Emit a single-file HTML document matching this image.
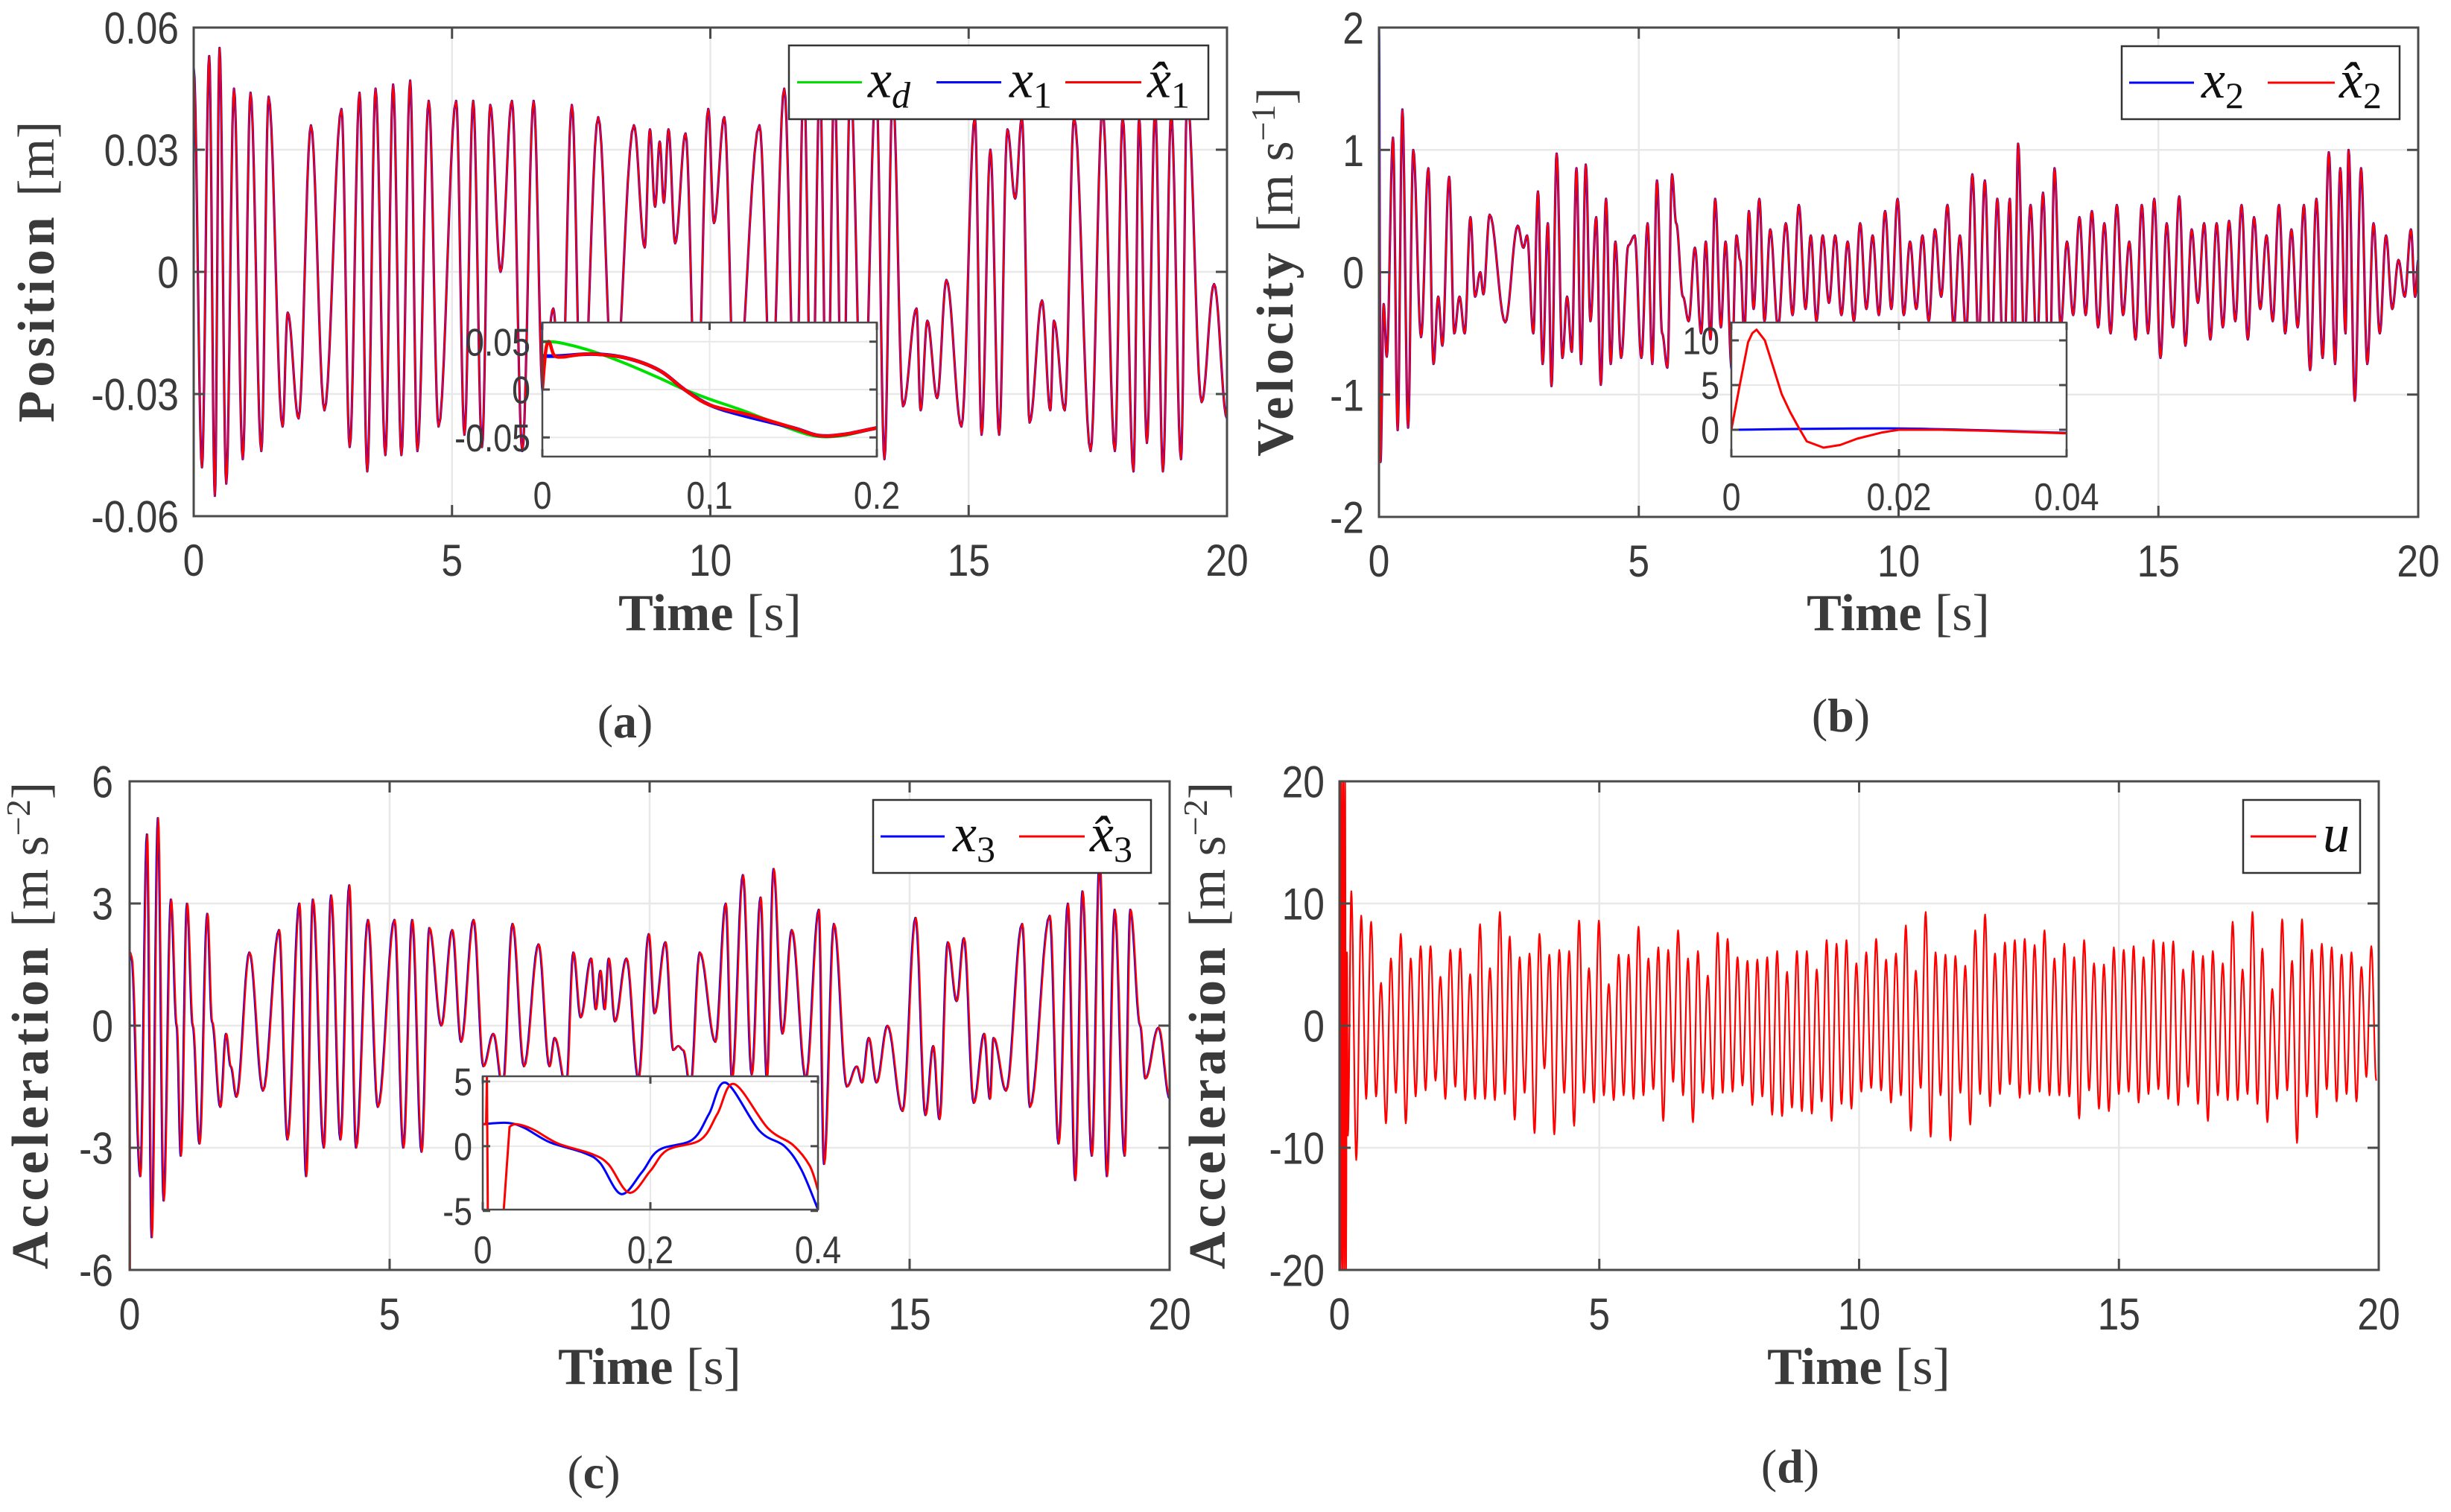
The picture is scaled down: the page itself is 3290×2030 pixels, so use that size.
<!DOCTYPE html>
<html><head><meta charset="utf-8"><title>State estimation results</title>
<style>
html,body{margin:0;padding:0;background:#fff;}
svg{display:block;}
.tk{font-family:"Liberation Sans",sans-serif;fill:#3a3a3a;}
.ttl{font-family:"Liberation Serif",serif;fill:#3a3a3a;}
.lg{font-family:"Liberation Serif",serif;font-style:italic;fill:#111;}
</style></head>
<body>
<svg id="fig" xmlns="http://www.w3.org/2000/svg" width="3290" height="2030" viewBox="0 0 3290 2030"></svg>
<script>
// ---------- Panel (a) data: position extrema ----------
const posTimes = [0,0.16,0.30,0.41,0.50,0.63,0.78,0.95,1.10,1.31,1.45,1.72,1.82,2.03,2.27,2.53,2.86,3.02,3.21,3.36,3.52,3.71,3.86,4.02,4.19,4.33,4.55,4.74,5.08,5.24,5.41,5.58,5.74,5.94,6.16,6.36,6.58,6.76,6.96,7.11,7.32,7.51,7.83,8.13,8.52,8.73,8.83,8.93,9.02,9.10,9.19,9.32,9.52,9.73,9.96,10.07,10.27,10.48,10.95,11.18,11.43,11.65,11.81,11.96,12.12,12.26,12.40,12.56,12.71,12.95,13.21,13.37,13.53,13.73,13.99,14.07,14.20,14.39,14.57,14.86,15.12,15.25,15.42,15.59,15.75,15.90,16.03,16.18,16.42,16.58,16.65,16.86,17.04,17.36,17.59,17.83,17.98,18.19,18.30,18.45,18.61,18.76,18.92,19.11,19.23,19.51,19.75,20.0];
const posValues = [0.050,-0.048,0.053,-0.055,0.055,-0.052,0.045,-0.046,0.044,-0.044,0.043,-0.038,-0.010,-0.036,0.036,-0.034,0.040,-0.043,0.044,-0.049,0.045,-0.045,0.046,-0.045,0.047,-0.044,0.042,-0.038,0.042,-0.040,0.042,-0.043,0.041,0.000,0.042,-0.044,0.042,-0.030,-0.009,-0.038,0.041,-0.040,0.038,-0.032,0.036,0.006,0.035,0.016,0.032,0.017,0.035,0.007,0.034,-0.038,0.040,0.012,0.038,-0.036,0.036,-0.032,0.045,-0.040,0.048,-0.044,0.046,-0.045,0.046,-0.045,0.046,-0.045,0.046,-0.046,0.044,-0.033,-0.009,-0.034,-0.012,-0.031,-0.002,-0.038,0.038,-0.040,0.030,-0.040,0.035,0.018,0.038,-0.037,-0.007,-0.034,-0.012,-0.034,0.038,-0.044,0.040,-0.044,0.038,-0.049,0.038,-0.042,0.040,-0.049,0.039,-0.046,0.043,-0.032,-0.003,-0.036];
const insetATimes = [0,0.01,0.03,0.05,0.07,0.085,0.10,0.12,0.15,0.165,0.18,0.20];
const insetAxd = [0.050,0.049,0.040,0.027,0.012,0.000,-0.010,-0.022,-0.042,-0.049,-0.048,-0.040];
const insetAx1 = [0.035,0.035,0.037,0.033,0.020,0.000,-0.016,-0.027,-0.040,-0.048,-0.047,-0.040];
const insetAhatTimes = [0,0.002,0.004,0.007,0.012,0.02,0.03,0.05,0.07,0.085,0.10,0.125,0.15,0.165,0.18,0.20];
const insetAhat = [0.000,0.040,0.050,0.036,0.034,0.036,0.037,0.033,0.020,0.000,-0.016,-0.027,-0.040,-0.048,-0.047,-0.040];

// ---------- Panel (b) data: velocity extrema ----------
const velTimes = [0,0.03,0.09,0.15,0.27,0.36,0.45,0.56,0.66,0.81,0.95,1.05,1.14,1.22,1.35,1.45,1.55,1.65,1.76,1.85,1.95,2.01,2.13,2.43,2.67,2.78,2.85,2.97,3.06,3.15,3.25,3.32,3.42,3.53,3.62,3.71,3.80,3.89,3.98,4.07,4.18,4.27,4.37,4.46,4.55,4.66,4.80,4.92,5.05,5.17,5.26,5.35,5.45,5.55,5.64,5.72,5.85,5.96,6.08,6.20,6.29,6.38,6.47,6.58,6.67,6.79,6.88,6.95,7.03,7.12,7.21,7.32,7.42,7.53,7.68,7.83,7.96,8.08,8.21,8.31,8.42,8.54,8.66,8.78,8.90,9.02,9.14,9.26,9.38,9.50,9.62,9.74,9.86,9.98,10.10,10.22,10.34,10.46,10.58,10.70,10.82,10.94,11.06,11.18,11.30,11.42,11.54,11.66,11.78,11.90,12.02,12.14,12.22,12.30,12.42,12.54,12.66,12.78,12.90,13.00,13.12,13.24,13.36,13.48,13.60,13.72,13.84,13.96,14.08,14.20,14.32,14.44,14.56,14.68,14.80,14.92,15.04,15.16,15.28,15.40,15.52,15.64,15.76,15.88,16.00,16.12,16.24,16.36,16.48,16.60,16.72,16.84,16.96,17.08,17.20,17.32,17.44,17.56,17.68,17.80,17.92,18.04,18.16,18.28,18.40,18.50,18.60,18.66,18.78,18.90,19.02,19.14,19.26,19.38,19.50,19.62,19.74,19.86,19.94,20.0];
const velValues = [2.0,-1.55,-0.26,-0.69,1.1,-1.29,1.33,-1.27,1.0,-0.53,0.85,-0.75,-0.2,-0.6,0.78,-0.5,-0.2,-0.5,0.45,-0.2,0.0,-0.18,0.47,-0.41,0.38,0.2,0.3,-0.5,0.66,-0.75,0.4,-0.93,0.97,-0.7,-0.2,-0.65,0.85,-0.75,0.88,-0.4,0.45,-0.92,0.6,-0.75,0.25,-0.7,0.22,0.3,-0.7,0.4,-0.75,0.75,-0.5,-0.78,0.8,0.4,-0.2,-0.4,0.2,-0.5,0.25,-0.55,0.6,-0.45,0.25,-0.8,0.3,0.1,-0.5,0.5,-0.3,0.6,-0.4,0.35,-0.45,0.4,-0.35,0.55,-0.3,0.3,-0.4,0.3,-0.25,0.3,-0.35,0.25,-0.4,0.4,-0.3,0.3,-0.35,0.5,-0.3,0.6,-0.35,0.25,-0.3,0.3,-0.4,0.35,-0.2,0.55,-0.45,0.3,-0.5,0.8,-0.55,0.75,-0.75,0.6,-0.8,0.6,-0.9,1.05,-0.6,0.55,-0.65,0.65,-0.95,0.85,-0.45,0.25,-0.35,0.45,-0.35,0.5,-0.45,0.4,-0.5,0.55,-0.35,0.25,-0.55,0.55,-0.5,0.6,-0.7,0.4,-0.45,0.62,-0.6,0.35,-0.25,0.4,-0.55,0.4,-0.45,0.42,-0.4,0.55,-0.55,0.45,-0.3,0.3,-0.4,0.55,-0.5,0.35,-0.45,0.55,-0.8,0.6,-0.7,0.98,-0.75,0.85,-0.5,1.0,-1.05,0.85,-0.75,0.4,-0.5,0.3,-0.3,0.1,-0.2,0.35,-0.2,0.1];
const insetBTimes = [0,0.02,0.04];
const insetBx2 = [0.0,0.15,-0.35];
const insetBhatTimes = [0,0.001,0.002,0.0025,0.003,0.004,0.005,0.006,0.007,0.008,0.009,0.011,0.013,0.015,0.018,0.02,0.025,0.03,0.035,0.04];
const insetBhat = [0,5,9.8,10.8,11.2,10.0,7.0,4.0,2.0,0.3,-1.3,-2.0,-1.7,-1.0,-0.3,0.0,0.0,-0.1,-0.25,-0.4];

// ---------- Panel (c) data: acceleration extrema ----------
const accTimes = [0,0.03,0.2,0.33,0.42,0.54,0.65,0.79,0.9,0.98,1.1,1.21,1.34,1.49,1.58,1.74,1.85,1.94,2.05,2.3,2.56,2.87,3.03,3.26,3.39,3.52,3.73,3.87,4.05,4.22,4.35,4.58,4.77,5.09,5.26,5.43,5.61,5.76,5.99,6.2,6.37,6.61,6.8,6.99,7.17,7.36,7.58,7.86,8.07,8.17,8.39,8.53,8.67,8.87,8.96,9.05,9.13,9.21,9.33,9.55,9.78,9.98,10.09,10.3,10.45,10.55,10.64,10.78,10.96,11.26,11.46,11.58,11.79,11.96,12.13,12.25,12.38,12.55,12.73,13.0,13.25,13.35,13.54,13.79,13.98,14.08,14.21,14.36,14.57,14.86,15.11,15.3,15.45,15.57,15.73,15.9,16.04,16.23,16.43,16.54,16.61,16.85,17.16,17.31,17.69,17.86,18.04,18.18,18.32,18.5,18.65,18.79,18.94,19.13,19.24,19.43,19.53,19.78,20.0];
const accValues = [1.8,1.7,-3.7,4.7,-5.2,5.1,-4.3,3.1,0.0,-3.2,3.0,0.0,-2.9,2.75,0.1,-2.0,-0.2,-1.0,-1.75,1.8,-1.6,2.35,-2.8,3.0,-3.7,3.1,-3.0,3.2,-2.8,3.45,-3.0,2.6,-2.0,2.6,-3.0,2.6,-3.1,2.4,0.0,2.35,-0.4,2.6,-1.0,-0.2,-1.5,2.5,-1.0,2.0,-1.0,-0.3,-1.5,1.8,0.2,1.65,0.4,1.35,0.4,1.65,0.1,1.65,-1.3,2.25,0.3,2.05,-0.6,-0.5,-0.6,-1.5,1.8,-0.4,3.0,-1.3,3.7,-1.2,3.15,-1.3,3.85,-0.2,2.35,-1.3,2.85,-3.4,2.5,-1.5,-1.0,-1.4,-0.3,-1.4,0.0,-2.1,2.65,-2.2,-0.5,-2.3,2.05,0.6,2.15,-1.9,-0.2,-1.8,-0.3,-1.6,2.5,-2.0,2.7,-2.9,3.0,-3.8,3.3,-3.2,4.1,-3.7,2.85,-3.2,2.85,0.0,-1.3,-0.05,-1.8];
const insetCTimes = [0,0.03,0.05,0.08,0.12,0.14,0.165,0.19,0.21,0.25,0.27,0.29,0.33,0.36,0.38,0.40];
const insetCx3 = [1.7,1.8,1.4,0.3,-0.5,-1.3,-3.7,-2.0,-0.3,0.5,2.5,4.9,1.2,0.0,-1.8,-4.9];
const insetChatTimes = [0,0.004,0.005,0.006,0.018,0.025,0.032,0.04,0.06,0.09,0.13,0.15,0.175,0.2,0.22,0.26,0.28,0.3,0.34,0.37,0.39,0.40];
const insetChat = [1.7,1.7,5.4,-5.0,-5.0,-5.0,1.5,1.7,1.3,0.2,-0.6,-1.4,-3.6,-1.9,-0.3,0.5,2.5,4.8,1.4,0.1,-1.5,-3.4];

// ---------- Panel (d) data: control input ----------
const uStart = [20,-20,20,-20,20,-20,20,-20,6,-9];
const uPeaks = [11,9,8.5,3.5,5.5,7.5,5.5,6.5,6.5,4,6.2,6.3,4.2,8.3,4.7,9.3,7.3,5.6,5.9,7.5,5.8,6.2,6.1,8.6,4.7,8.6,3.4,5.8,5.8,8.1,5.5,6.4,6.2,7.8,5.5,6.1,4.1,7.6,7.1,5.6,5.3,5.4,5.6,6.1,4.4,6.1,6.1,4.6,7,6.7,7,5.1,6,7.1,5.4,5.9,8.2,4.5,9.3,6,5.8,5.7,4.9,7.8,9.1,5.9,6.8,7,7.1,6.6,7.8,5.5,6.7,5.6,7,5.1,5,6.4,6.2,6.5,5.6,7,6.8,6.9,4.6,6.1,5.7,6.1,5.1,8.5,4.6,9.3,6.3,3,8.7,5.3,8.7,6.2,6.7,6.4,5.8,6,4.8,6.5];
const uTroughs = [-11,-6,-5.8,-8,-5.5,-8,-5.8,-5.3,-4.5,-6,-5,-6.1,-6,-6,-6.1,-5.6,-7.7,-5.5,-8.8,-3.5,-8.9,-5.5,-8.2,-5.5,-6.3,-5.7,-6.1,-5.7,-6,-5.7,-5.2,-7.8,-4.6,-5.7,-7.9,-5.5,-6,-5.5,-5.4,-4.9,-6.5,-5.8,-7.3,-7.4,-6.7,-7,-7.2,-6.2,-7.8,-6.4,-6.8,-5.4,-5.1,-5.3,-6.3,-5.7,-8.6,-5.1,-9.1,-5.7,-9.4,-5.5,-8.1,-5.6,-6.6,-5.6,-4.8,-5.9,-5.6,-5.4,-5.7,-5.7,-5.8,-7.6,-5.3,-6.8,-7,-5.6,-5.4,-6.3,-5.6,-5.2,-6,-6.5,-5,-6.4,-7.8,-5.7,-6.1,-6.1,-5.6,-6.4,-7.9,-6,-5.3,-9.6,-5.8,-7.5,-5.2,-6.2,-5.6,-6.2,-4.2,-4.5];

const xTicks = [0,5,10,15,20];
const posTicks = [0.06,0.03,0,-0.03,-0.06];
const posTickLabels = ["0.06","0.03","0","-0.03","-0.06"];
const velTicks = [2,1,0,-1,-2];
const accTicks = [6,3,0,-3,-6];
const uTicks = [20,10,0,-10,-20];

const NS = "http://www.w3.org/2000/svg";
const svg = document.getElementById('fig');
function mk(tag, attrs, parent){
  const e = document.createElementNS(NS, tag);
  for (const k in attrs) e.setAttribute(k, attrs[k]);
  (parent||svg).appendChild(e);
  return e;
}
let clipId = 0;
function cosPath(ts, vs, sx, sy){
  let d = "";
  for (let i=0;i<ts.length-1;i++){
    const n = 10;
    for (let k=(i===0?0:1);k<=n;k++){
      const f=k/n, t=ts[i]+f*(ts[i+1]-ts[i]);
      const v=vs[i]+(vs[i+1]-vs[i])*(1-Math.cos(Math.PI*f))/2;
      d += (d===""?"M":"L")+sx(t).toFixed(1)+","+sy(v).toFixed(1);
    }
  }
  return d;
}
function linPath(ts, vs, sx, sy){
  return ts.map((t,i)=>(i?"L":"M")+sx(t).toFixed(1)+","+sy(vs[i]).toFixed(1)).join("");
}
function smoothPath(ts, vs, sx, sy){
  const P = ts.map((t,i)=>[sx(t),sy(vs[i])]);
  let d = "M"+P[0][0].toFixed(1)+","+P[0][1].toFixed(1);
  for (let i=0;i<P.length-1;i++){
    const p0=P[Math.max(0,i-1)],p1=P[i],p2=P[i+1],p3=P[Math.min(P.length-1,i+2)];
    const c1=[p1[0]+(p2[0]-p0[0])/6,p1[1]+(p2[1]-p0[1])/6];
    const c2=[p2[0]-(p3[0]-p1[0])/6,p2[1]-(p3[1]-p1[1])/6];
    d += "C"+c1[0].toFixed(1)+","+c1[1].toFixed(1)+" "+c2[0].toFixed(1)+","+c2[1].toFixed(1)+" "+p2[0].toFixed(1)+","+p2[1].toFixed(1);
  }
  return d;
}
function tickText(x,y,str,anchor,size,parent){
  const g = mk('g',{transform:`translate(${x},${y}) scale(0.86,1)`},parent);
  const t = mk('text',{x:0,y:0,'text-anchor':anchor,'font-size':size,class:'tk'},g);
  t.textContent = str;
  return t;
}
function makeAxes(o){
  const g = mk('g',{});
  
  
  const sx = t => o.L + (t-o.xmin)/(o.xmax-o.xmin)*(o.R-o.L);
  const sy = v => o.B - (v-o.ymin)/(o.ymax-o.ymin)*(o.B-o.T);
  mk('rect',{x:o.L,y:o.T,width:o.R-o.L,height:o.B-o.T,fill:'#fff'},g);
  o.xt.forEach(t=>{ if(t>o.xmin&&t<o.xmax){
    const l = mk('line',{x1:sx(t),x2:sx(t),y1:o.T,y2:o.B,stroke:'#e8e8e8','stroke-width':o.small?2:2.5},g);
    
    
  }});
  o.yt.forEach(v=>{ if(v>o.ymin&&v<o.ymax){
    const l = mk('line',{x1:o.L,x2:o.R,y1:sy(v),y2:sy(v),stroke:'#e8e8e8','stroke-width':o.small?2:2.5},g);
    
    
  }});
  const id = 'clip'+(clipId++);
  const cp = mk('clipPath',{id:id},g);
  mk('rect',{x:o.L,y:o.T,width:o.R-o.L,height:o.B-o.T},cp);
  const plot = mk('g',{'clip-path':`url(#${id})`},g);
  
  
  return {g,plot,sx,sy};
}
function finishAxes(o, A){
  const g = A.g, sx=A.sx, sy=A.sy, tl = o.small?10:15;
  const fr = mk('rect',{x:o.L,y:o.T,width:o.R-o.L,height:o.B-o.T,fill:'none',stroke:'#4a4a4a','stroke-width':o.small?2.5:3},g);
  
  
  o.xt.forEach((t,i)=>{
    mk('line',{x1:sx(t),x2:sx(t),y1:o.B,y2:o.B-tl,stroke:'#4a4a4a','stroke-width':3},g);
    mk('line',{x1:sx(t),x2:sx(t),y1:o.T,y2:o.T+tl,stroke:'#4a4a4a','stroke-width':3},g);
    const tx = tickText(sx(t), o.B+o.xlabOff, o.xl[i], 'middle', o.fs, g);
    
    
  });
  o.yt.forEach((v,i)=>{
    mk('line',{x1:o.L,x2:o.L+tl,y1:sy(v),y2:sy(v),stroke:'#4a4a4a','stroke-width':3},g);
    mk('line',{x1:o.R,x2:o.R-tl,y1:sy(v),y2:sy(v),stroke:'#4a4a4a','stroke-width':3},g);
    const ty = tickText(o.L-o.ylabOff, sy(v)+o.fs*0.36, o.yl[i], 'end', o.fs, g);
    
    
  });
}
function addPath(parent, d, color, w, name){
  const p = mk('path',{d:d,fill:'none',stroke:color,'stroke-width':w,'stroke-linejoin':'round'},parent);
  
  
  return p;
}
function yTitle(x, yc, bold, rest, name){
  const t = mk('text',{transform:`translate(${x},${yc}) rotate(-90)`,'text-anchor':'middle','font-size':70,class:'ttl'});
  
  
  const b = mk('tspan',{'font-weight':'bold','letter-spacing':5},t); b.textContent = bold;
  const r = mk('tspan',{},t); r.innerHTML = rest;
}
function xTitle(xc, y, name){
  const t = mk('text',{x:xc,y:y,'text-anchor':'middle','font-size':70,class:'ttl'});
  
  
  const b = mk('tspan',{'font-weight':'bold'},t); b.textContent = 'Time ';
  const r = mk('tspan',{},t); r.textContent = '[s]';
}
function panelLabel(x, y, letter, name){
  const t = mk('text',{x:x,y:y,'text-anchor':'middle','font-size':64,class:'ttl'});
  
  
  const a = mk('tspan',{},t); a.textContent='(';
  const b = mk('tspan',{'font-weight':'bold'},t); b.textContent=letter;
  const c = mk('tspan',{},t); c.textContent=')';
}
function legend(x1,y1,x2,y2,items,name){
  const g = mk('g',{});
  
  
  mk('rect',{x:x1,y:y1,width:x2-x1,height:y2-y1,fill:'#fff',stroke:'#333','stroke-width':2.5},g);
  const yc = (y1+y2)/2;
  items.forEach(it=>{
    const e = mk('g',{},g);
    
    
    mk('line',{x1:it.lx1,x2:it.lx2,y1:yc,y2:yc,stroke:it.c,'stroke-width':3},e);
    const t = mk('text',{x:it.tx,y:yc+20,'font-size':72,class:'lg'},e);
    const m = mk('tspan',{},t); m.textContent = it.hat ? 'x\u0302' : 'x';
    if (it.base==='u') m.textContent = 'u';
    if (it.sub){ const s = mk('tspan',{dy:14,'font-size':50,'font-style':it.subItalic?'italic':'normal'},t); s.textContent = it.sub; }
  });
}
const fmt = a => a.map(String);

// ================= Panel (a) =================
const oa = {name:'position',L:260,R:1647,T:37,B:693,xmin:0,xmax:20,ymin:-0.06,ymax:0.06,xt:xTicks,xl:fmt(xTicks),yt:posTicks,yl:posTickLabels,fs:60,xlabOff:80,ylabOff:20};
const Aa = makeAxes(oa);
addPath(Aa.plot, cosPath(posTimes,posValues,Aa.sx,Aa.sy), '#0000ff', 3.2, 'x1-line');
addPath(Aa.plot, cosPath(posTimes,posValues,Aa.sx,Aa.sy), '#ff0000', 2.2, 'x1-hat-line');
finishAxes(oa, Aa);
const oai = {name:'position-inset',L:728,R:1177,T:433,B:613,xmin:0,xmax:0.2,ymin:-0.07,ymax:0.07,xt:[0,0.1,0.2],xl:["0","0.1","0.2"],yt:[0.05,0,-0.05],yl:["0.05","0","-0.05"],fs:52,xlabOff:70,ylabOff:16,small:true};
const Aai = makeAxes(oai);
addPath(Aai.plot, smoothPath(insetATimes,insetAxd,Aai.sx,Aai.sy), '#00e000', 4, 'inset-xd-line');
addPath(Aai.plot, smoothPath(insetATimes,insetAx1,Aai.sx,Aai.sy), '#0000ff', 5, 'inset-x1-line');
addPath(Aai.plot, smoothPath(insetAhatTimes,insetAhat,Aai.sx,Aai.sy), '#ff0000', 4.5, 'inset-x1-hat-line');
finishAxes(oai, Aai);
yTitle(72, 365, 'Position ', '[m]', 'position-y-axis-title');
xTitle(953, 846, 'position-x-axis-title');
legend(1059,61,1622,160,[
  {id:'xd',c:'#00e000',lx1:1070,lx2:1157,tx:1165,sub:'d',subItalic:true},
  {id:'x1',c:'#0000ff',lx1:1257,lx2:1344,tx:1355,sub:'1'},
  {id:'x1-hat',c:'#ff0000',lx1:1430,lx2:1532,tx:1540,sub:'1',hat:true}],'position-legend');
panelLabel(839, 990, 'a', 'panel-label-a');

// ================= Panel (b) =================
const ob = {name:'velocity',L:1851,R:3246,T:37,B:694,xmin:0,xmax:20,ymin:-2,ymax:2,xt:xTicks,xl:fmt(xTicks),yt:velTicks,yl:fmt(velTicks),fs:60,xlabOff:80,ylabOff:20};
const Ab = makeAxes(ob);
addPath(Ab.plot, cosPath(velTimes,velValues,Ab.sx,Ab.sy), '#0000ff', 3.2, 'x2-line');
addPath(Ab.plot, cosPath(velTimes,velValues,Ab.sx,Ab.sy), '#ff0000', 2.2, 'x2-hat-line');
finishAxes(ob, Ab);
const obi = {name:'velocity-inset',L:2324,R:2774,T:433,B:613,xmin:0,xmax:0.04,ymin:-3,ymax:12,xt:[0,0.02,0.04],xl:["0","0.02","0.04"],yt:[10,5,0],yl:["10","5","0"],fs:52,xlabOff:72,ylabOff:16,small:true};
const Abi = makeAxes(obi);
addPath(Abi.plot, smoothPath(insetBTimes,insetBx2,Abi.sx,Abi.sy), '#0000ff', 3, 'inset-x2-line');
addPath(Abi.plot, linPath(insetBhatTimes,insetBhat,Abi.sx,Abi.sy), '#ff0000', 3, 'inset-x2-hat-line');
finishAxes(obi, Abi);
yTitle(1735, 365, 'Velocity ', '[m s<tspan dy="-24" font-size="46">\u22121</tspan><tspan dy="24">]</tspan>', 'velocity-y-axis-title');
xTitle(2548, 846, 'velocity-x-axis-title');
legend(2848,62,3221,160,[
  {id:'x2',c:'#0000ff',lx1:2858,lx2:2945,tx:2955,sub:'2'},
  {id:'x2-hat',c:'#ff0000',lx1:3044,lx2:3134,tx:3140,sub:'2',hat:true}],'velocity-legend');
panelLabel(2471, 982, 'b', 'panel-label-b');

// ================= Panel (c) =================
const oc = {name:'acceleration',L:174,R:1570,T:1049,B:1705,xmin:0,xmax:20,ymin:-6,ymax:6,xt:xTicks,xl:fmt(xTicks),yt:accTicks,yl:fmt(accTicks),fs:60,xlabOff:80,ylabOff:22};
const Ac = makeAxes(oc);
addPath(Ac.plot, cosPath(accTimes,accValues,Ac.sx,Ac.sy), '#0000ff', 2.6, 'x3-line');
addPath(Ac.plot, cosPath(accTimes.map(t=>t+0.012),accValues,Ac.sx,Ac.sy), '#ff0000', 2.2, 'x3-hat-line');
addPath(Ac.plot, "M"+Ac.sx(0)+","+Ac.sy(6)+"L"+Ac.sx(0.01)+","+Ac.sy(-6), '#ff0000', 2.4, 'x3-hat-transient');
finishAxes(oc, Ac);
const oci = {name:'acceleration-inset',L:648,R:1098,T:1445,B:1624,xmin:0,xmax:0.4,ymin:-4.9,ymax:5.4,xt:[0,0.2,0.4],xl:["0","0.2","0.4"],yt:[5,0,-5],yl:["5","0","-5"],fs:52,xlabOff:72,ylabOff:14,small:true};
const Aci = makeAxes(oci);
addPath(Aci.plot, smoothPath(insetCTimes,insetCx3,Aci.sx,Aci.sy), '#0000ff', 3, 'inset-x3-line');
addPath(Aci.plot, linPath(insetChatTimes.slice(0,7),insetChat.slice(0,7),Aci.sx,Aci.sy)+smoothPath(insetChatTimes.slice(6),insetChat.slice(6),Aci.sx,Aci.sy).replace(/^M/,'L'), '#ff0000', 3, 'inset-x3-hat-line');
finishAxes(oci, Aci);
yTitle(64, 1377, 'Acceleration ', '[m s<tspan dy="-24" font-size="46">\u22122</tspan><tspan dy="24">]</tspan>', 'acceleration-y-axis-title');
xTitle(872, 1858, 'acceleration-x-axis-title');
legend(1172,1074,1545,1172,[
  {id:'x3',c:'#0000ff',lx1:1182,lx2:1268,tx:1279,sub:'3'},
  {id:'x3-hat',c:'#ff0000',lx1:1368,lx2:1456,tx:1463,sub:'3',hat:true}],'acceleration-legend');
panelLabel(797, 1998, 'c', 'panel-label-c');

// ================= Panel (d) =================
const od = {name:'control',L:1798,R:3193,T:1049,B:1705,xmin:0,xmax:20,ymin:-20,ymax:20,xt:xTicks,xl:fmt(xTicks),yt:uTicks,yl:fmt(uTicks),fs:60,xlabOff:80,ylabOff:20};
const Ad = makeAxes(od);
(function(){
  const ts=[], vs=[];
  const t0 = 0.18, tEnd = 20;
  uStart.forEach((v,i)=>{ ts.push(i*t0/uStart.length); vs.push(v); });
  const n = Math.min(uPeaks.length,uTroughs.length);
  const dt = (tEnd - t0)/n;
  for(let i=0;i<n;i++){
    ts.push(t0+i*dt+dt*0.25); vs.push(uPeaks[i]);
    ts.push(t0+i*dt+dt*0.75); vs.push(uTroughs[i]);
  }
  addPath(Ad.plot, cosPath(ts,vs,Ad.sx,Ad.sy), '#ff0000', 2.2, 'u-line');
})();
finishAxes(od, Ad);
yTitle(1644, 1377, 'Acceleration ', '[m s<tspan dy="-24" font-size="46">\u22122</tspan><tspan dy="24">]</tspan>', 'control-y-axis-title');
xTitle(2495, 1858, 'control-x-axis-title');
legend(3011,1074,3168,1172,[
  {id:'u',c:'#ff0000',lx1:3021,lx2:3109,tx:3118,base:'u'}],'control-legend');
panelLabel(2403, 1990, 'd', 'panel-label-d');
</script>
</body></html>
